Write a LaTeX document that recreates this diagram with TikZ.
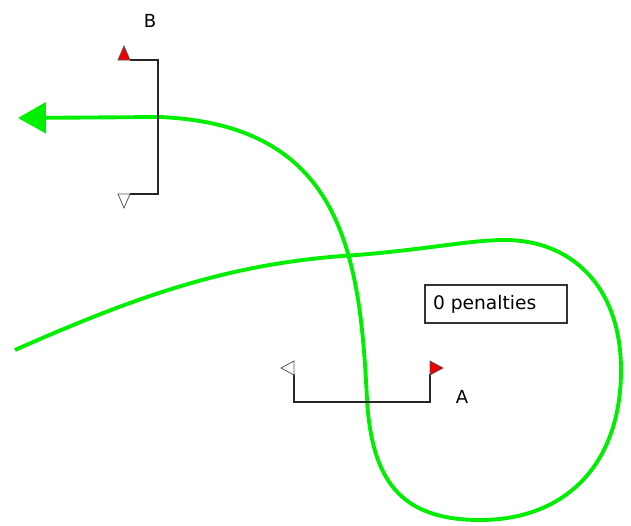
\documentclass[tikz,border=0pt]{standalone}
\usepackage{fontspec}
\setmainfont{DejaVu Sans}
\usetikzlibrary{arrows.meta}
\definecolor{trackgreen}{RGB}{0,238,0}
\definecolor{flagred}{RGB}{238,0,0}
\definecolor{flaggray}{RGB}{90,90,90}
\tikzset{
  gateline/.style={draw=black!85, line width=0.9pt},
  redflag/.style={fill=flagred, draw=flaggray, line width=0.6pt},
  whiteflag/.style={fill=white, draw=flaggray, line width=0.6pt},
  track/.style={draw=trackgreen, line width=2.9pt},
  lbl/.style={font=\fontsize{13.5pt}{15pt}\selectfont, inner sep=0pt},
  penbox/.style={draw=black!80, line width=0.8pt, minimum width=106.5pt, minimum height=28.5pt, font=\fontsize{14pt}{16pt}\selectfont, inner sep=0pt}
}
\begin{document}
\begin{tikzpicture}[x=0.75pt,y=-0.75pt]
\useasboundingbox (0,0) rectangle (631,525);
% track
\coordinate (start) at (15,350);
\coordinate (cross) at (357,255);
\coordinate (top) at (505,240);
\coordinate (right) at (621,370);
\coordinate (bottom) at (480,520);
\coordinate (left) at (367,400);
\coordinate (upper) at (160,117);
\coordinate (tip) at (18,118);
\draw[track, -{Triangle[length=21pt,width=23pt]}]
  (start) .. controls (150,290) and (240,262) .. (cross)
  .. controls (430,249) and (470,240) .. (top)
  .. controls (570,240) and (621,285) .. (right)
  .. controls (621,465) and (565,520) .. (bottom)
  .. controls (400,520) and (372,480) .. (left)
  .. controls (360,250) and (340,125) .. (upper)
  -- (tip);
% gate B
\coordinate (b1) at (130,60);
\coordinate (b2) at (158,60);
\coordinate (b3) at (158,194);
\coordinate (b4) at (130,194);
\draw[gateline] (b1) -- (b2) -- (b3) -- (b4);
\draw[redflag] (118,60) -- (124,46) -- (130,60) -- cycle;
\draw[whiteflag] (118,194) -- (124,208) -- (130,194) -- cycle;
\node[lbl] (B) at (150,21) {B};
% gate A
\coordinate (a1) at (294,374);
\coordinate (a2) at (294,402);
\coordinate (a3) at (430,402);
\coordinate (a4) at (430,374);
\draw[gateline] (a1) -- (a2) -- (a3) -- (a4);
\draw[whiteflag] (294,361) -- (281,368) -- (294,375) -- cycle;
\draw[redflag] (430,361) -- (443,368) -- (430,375) -- cycle;
\node[lbl] (A) at (462,397) {A};
% penalties box
\node[penbox] (pen) at (496,304) {0 penalties\hspace*{17pt}};
\end{tikzpicture}
\end{document}
